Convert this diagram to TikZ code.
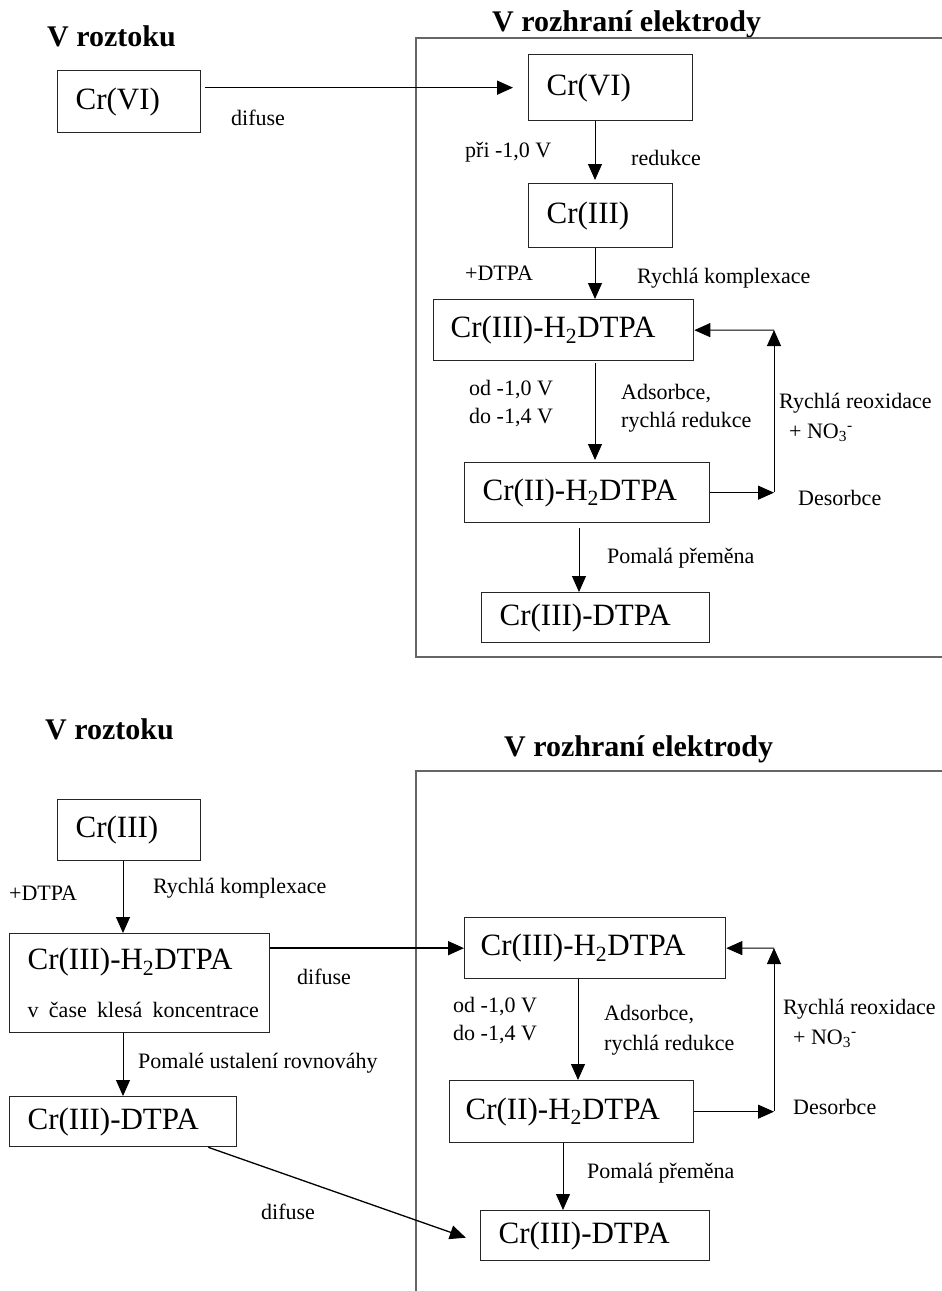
\documentclass[tikz,border=0pt]{standalone}
\usepackage{fontspec}
\setmainfont{Liberation Serif}
\usetikzlibrary{arrows.meta}

\begin{document}
\begin{tikzpicture}[x=1pt, y=-1pt,
	crbox/.style={draw=black!85, line width=1.3pt, anchor=north west, align=left, inner xsep=18pt, inner ysep=0pt, font=\fontsize{31}{36}\selectfont},
	lbl/.style={anchor=west, inner sep=0pt, align=left, font=\fontsize{22}{28}\selectfont},
	ttl/.style={anchor=west, inner sep=0pt, font=\bfseries\fontsize{30}{36}\selectfont},
	rxn/.style={-{Triangle[length=16pt,width=14pt]}, line width=1pt},
	dif/.style={rxn, line width=1.6pt},
	elframe/.style={line width=1.5pt, black!60}]
		\useasboundingbox (0,0) rectangle (942,1291);
		
		\begin{scope}
		% Draw titles
		\node[ttl] (solT) at (47,36) {V roztoku};
		\node[ttl] (elT) at (492,24) {V rozhraní elektrody};
		
		% Draw electrode frame
		\draw[elframe] (942,38) -| (416,657) -- (942,657);
		
		% Draw species boxes
		\node[crbox, text width=107pt, minimum height=62pt] (solVI) at (57,70) {Cr(VI)};
		\node[crbox, text width=128pt, minimum height=66pt] (elVI) at (528,54) {Cr(VI)};
		\node[crbox, text width=108pt, minimum height=64pt] (elIII) at (528,183) {Cr(III)};
		\node[crbox, inner xsep=17pt, text width=226pt, minimum height=61pt] (elIIIH) at (433,299) {Cr(III)-H\textsubscript{2}DTPA};
		\node[crbox, text width=209pt, minimum height=60pt] (elIIH) at (464,462) {Cr(II)-H\textsubscript{2}DTPA};
		\node[crbox, text width=192pt, minimum height=50pt] (elIIID) at (481,592) {Cr(III)-DTPA};
		
		% Draw labels
		\node[lbl] (difA) at (231,118) {difuse};
		\node[lbl] (potA) at (465,152) {při -1,0 V};
		\node[lbl] (redA) at (631,158) {redukce};
		\node[lbl] (dtpaA) at (465,273) {+DTPA};
		\node[lbl] (komA) at (637,278) {Rychlá komplexace};
		\node[lbl] (rngA) at (469,404) {od -1,0 V\\do -1,4 V};
		\node[lbl] (adsA) at (621,408) {Adsorbce,\\rychlá redukce};
		\node[lbl, font=\fontsize{22}{30}\selectfont] (reoxA) at (779,417) {Rychlá reoxidace\\\hspace*{10pt}+ NO\textsubscript{3}\textsuperscript{-}};
		\node[lbl] (desA) at (798,498) {Desorbce};
		\node[lbl] (pomA) at (607,558) {Pomalá přeměna};
		
		% Draw arrows
		\coordinate (axA) at (595,0);
		\coordinate (axB) at (579,0);
		\coordinate (loopA) at (774,492);
		\coordinate (loopB) at (774,330);
		\draw[dif, shorten <=4pt, shorten >=15pt] (solVI.east |- elVI.west) -- (elVI.west);
		\draw[rxn, shorten >=3pt] (elVI.south -| axA) -- (elIII.north -| axA);
		\draw[rxn] (elIII.south -| axA) -- (elIIIH.north -| axA);
		\draw[rxn, shorten <=2pt, shorten >=2pt] (elIIIH.south -| axA) -- (elIIH.north -| axA);
		\draw[rxn, shorten <=5pt] (elIIH.south -| axB) -- (elIIID.north -| axB);
		
		% Draw reoxidation loop
		\draw[rxn] (elIIH.east) -- (elIIH.east -| loopA);
		\draw[rxn] (loopA) -- (loopB);
		\draw[rxn] (loopB) -- (elIIIH.east);
		\end{scope}
		
		\begin{scope}
		% Draw titles
		\node[ttl] (solT2) at (45,729) {V roztoku};
		\node[ttl] (elT2) at (504,749) {V rozhraní elektrody};
		
		% Draw electrode frame
		\draw[elframe] (942,771) -| (416,1291);
		
		% Draw species boxes
		\node[crbox, text width=224pt, minimum height=99pt] (solIIIH) at (9,933) {Cr(III)-H\textsubscript{2}DTPA\\[12pt]\mbox{\fontsize{22}{28}\selectfont v čase klesá koncentrace}};
		\node[crbox, text width=107pt, minimum height=61pt] (solIII) at (57,799) {Cr(III)};
		\node[crbox, text width=191pt, minimum height=50pt] (solIIID) at (9,1096) {Cr(III)-DTPA};
		\node[crbox, inner xsep=16pt, text width=229pt, minimum height=61pt] (elIIIHb) at (464,917) {Cr(III)-H\textsubscript{2}DTPA};
		\node[crbox, inner xsep=16pt, text width=212pt, minimum height=62pt] (elIIHb) at (449,1080) {Cr(II)-H\textsubscript{2}DTPA};
		\node[crbox, text width=193pt, minimum height=50pt] (elIIIDb) at (480,1210) {Cr(III)-DTPA};
		
		% Draw labels
		\node[lbl] (dtpaB) at (9,893) {+DTPA};
		\node[lbl] (komB) at (153,888) {Rychlá komplexace};
		\node[lbl] (difB) at (297,977) {difuse};
		\node[lbl] (ustB) at (138,1063) {Pomalé ustalení rovnováhy};
		\node[lbl] (difC) at (261,1212) {difuse};
		\node[lbl] (rngB) at (453,1021) {od -1,0 V\\do -1,4 V};
		\node[lbl, font=\fontsize{22}{30}\selectfont] (adsB) at (604,1030) {Adsorbce,\\rychlá redukce};
		\node[lbl, font=\fontsize{22}{30}\selectfont] (reoxB) at (783,1023) {Rychlá reoxidace\\\hspace*{10pt}+ NO\textsubscript{3}\textsuperscript{-}};
		\node[lbl] (desB) at (793,1107) {Desorbce};
		\node[lbl] (pomB) at (587,1173) {Pomalá přeměna};
		
		% Draw arrows
		\coordinate (axC) at (123,0);
		\coordinate (axD) at (578,0);
		\coordinate (axE) at (563,0);
		\coordinate (loopC) at (774,1111);
		\coordinate (loopD) at (774,948);
		\draw[rxn] (solIII.south -| axC) -- (solIIIH.north -| axC);
		\draw[rxn] (solIIIH.south -| axC) -- (solIIID.north -| axC);
		\draw[dif] (solIIIH.east |- elIIIHb.west) -- (elIIIHb.west);
		\draw[dif, line width=1.3pt, shorten >=15pt] ([xshift=-29pt]solIIID.south east) -- ([yshift=-7pt]elIIIDb.west);
		\draw[rxn] (elIIIHb.south -| axD) -- (elIIHb.north -| axD);
		\draw[rxn] (elIIHb.south -| axE) -- (elIIIDb.north -| axE);
		
		% Draw reoxidation loop
		\draw[rxn] (elIIHb.east) -- (elIIHb.east -| loopC);
		\draw[rxn] (loopC) -- (loopD);
		\draw[rxn] (loopD) -- (elIIIHb.east);
		\end{scope}
\end{tikzpicture}
\end{document}
